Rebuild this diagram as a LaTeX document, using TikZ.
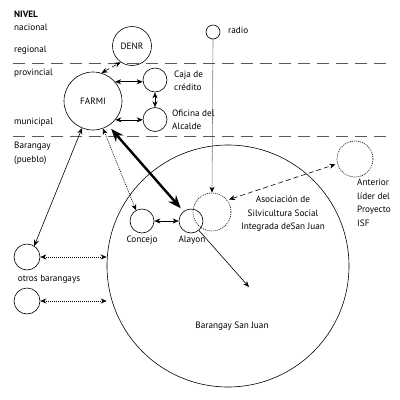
\documentclass[tikz,border=0pt]{standalone}
\usepackage{fontspec}
\setmainfont{PT Sans}
\usetikzlibrary{arrows.meta}
\begin{document}
\begin{tikzpicture}[x=1pt,y=-1pt,
  font=\fontsize{9.2}{13.5}\selectfont,
  every node/.style={inner sep=0pt},
  org/.style={circle,draw,line width=0.6pt},
  txt/.style={anchor=west,align=left},
  sep/.style={draw=black!65,line width=0.7pt,dash pattern=on 12pt off 7pt},
  tip/.style={{Stealth[length=6pt,width=5pt]}-{Stealth[length=6pt,width=5pt]}},
  tipone/.style={-{Stealth[length=6pt,width=5pt]}},
  thin/.style={line width=0.6pt},
  fdot/.style={line width=0.6pt,dash pattern=on 1pt off 1pt},
  fdash/.style={line width=0.6pt,dash pattern=on 5pt off 3pt}]
\useasboundingbox (0,0) rectangle (400,400);
\fill[white] (0,0) rectangle (400,400);
% level separators
\draw[sep] (13,63) coordinate (s1a) -- (390,63) coordinate (s1b);
\draw[sep] (13,136) coordinate (s2a) -- (390,136) coordinate (s2b);
% level labels
\node[txt,font=\fontsize{9.2}{13.5}\selectfont\bfseries] (nivel) at (14,14) {NIVEL};
\node[txt] (nac) at (14,27) {nacional};
\node[txt] (reg) at (14,50) {regional};
\node[txt] (prov) at (14,73) {provincial};
\node[txt] (mun) at (14,122) {municipal};
\node[txt] (bar) at (14,146) {Barangay};
\node[txt] (pue) at (14,160) {(pueblo)};
% big circle
\node[org,minimum size=242pt] (sj) at (228,266) {};
\node (sjl) at (232,326) {Barangay San Juan};
% organisations
\node[org,minimum size=58pt] (farmi) at (93,101) {FARMI};
\node[org,minimum size=39pt] (denr) at (132,46) {DENR};
\node[org,minimum size=24pt] (caja) at (155,80) {};
\node[txt] (cajal) at (174,81) {Caja de\\crédito};
\node[org,minimum size=24pt] (ofi) at (155,119.5) {};
\node[txt] (ofil) at (172,120) {Oficina del\\Alcalde};
\node[org,minimum size=14pt] (radio) at (213,32) {};
\node[txt] (radiol) at (228,30) {radio};
\node[org,minimum size=24pt] (conc) at (142,221) {};
\node (concl) at (142,240) {Concejo};
\node[org,minimum size=24pt] (alay) at (191,221) {};
\node (alayl) at (192,240) {Alayon};
\node[org,fdot,minimum size=38pt] (asoc) at (212,212) {};
\node[align=center] (asocl) at (283,214) {Asociación de\\Silvicultura Social\\Integrada deSan Juan};
\node[org,fdot,minimum size=36pt] (ant) at (355,159) {};
\node[txt] (antl) at (357,203) {Anterior\\líder del\\Proyecto\\ISF};
\node[org,minimum size=26pt] (ob1) at (27,257) {};
\node (obl) at (49,279) {otros barangays};
\node[org,minimum size=26pt] (ob2) at (27,301) {};
\coordinate (sjin) at (249,287);
% connectors
\draw[fdash,tip] (farmi.73) -- (denr.-125);
\draw[thin,tip] (farmi.41) -- (caja.west |- farmi.41);
\draw[thin,tip] (farmi.-40) -- (ofi.west |- farmi.-40);
\draw[thin,tip] (caja.south) -- (ofi.north);
\draw[thin,tip] (farmi.-112) -- (ob1.57);
\draw[fdot,tip] (farmi.-70) -- (conc.119);
\draw[line width=2.4pt,{Stealth[length=13pt,width=10pt]}-{Stealth[length=13pt,width=10pt]},shorten <=4pt,shorten >=4pt] (farmi.-58) -- (alay.128);
\draw[thin,tip] (conc.east) -- (alay.west);
\draw[fdot,tipone] (radio.south) -- (asoc.north);
\draw[fdash,tip,shorten <=2pt,shorten >=2pt] (asoc.38) -- (ant.195);
\draw[thin,tipone] (alay.-50) -- (sjin);
\draw[fdot,tip] (ob1.east) -- (ob1.east -| sj.west);
\draw[fdot,tip] (ob2.east) -- (ob2.east -| sj.west);
\end{tikzpicture}
\end{document}
